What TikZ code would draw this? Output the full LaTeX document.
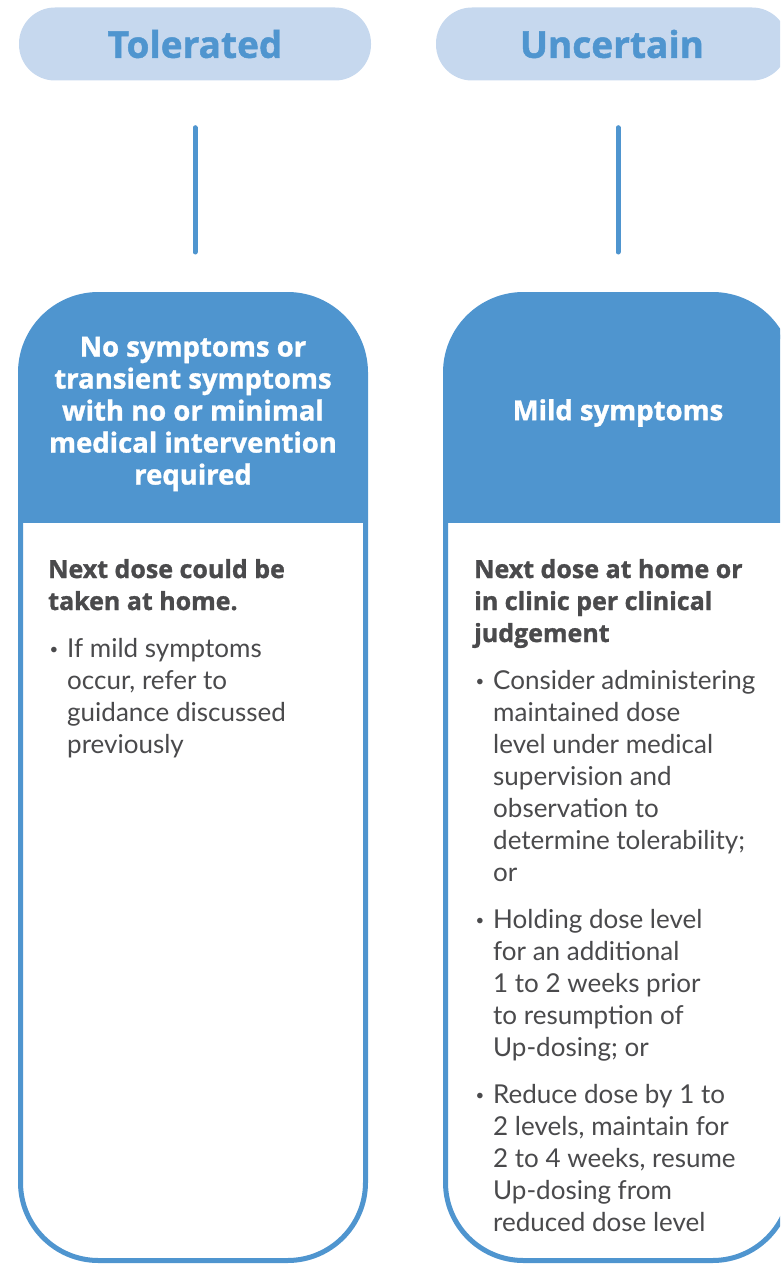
\documentclass[tikz,border=0pt]{standalone}
\usepackage{fontspec}
\setmainfont{Lato}
\newfontfamily\heavy{Open Sans}[BoldFeatures={FakeBold=1.2}]
\definecolor{mblue}{HTML}{4F95CF}
\definecolor{pillfill}{HTML}{C6D8EE}
\definecolor{txtgray}{HTML}{4A4A4C}
\tikzset{
  pill/.style={fill=pillfill, rounded corners=36pt, minimum width=352pt, minimum height=73pt,
    inner sep=0pt, text=mblue, font=\heavy\fontsize{37}{37}\selectfont\bfseries},
  conn/.style={draw=mblue, line width=5pt, line cap=round},
  bigbox/.style={draw=mblue, line width=5pt, rounded corners=78pt, fill=white,
    minimum width=345pt, minimum height=966pt, inner sep=0pt,
    path picture={\fill[mblue, sharp corners] (path picture bounding box.north west) rectangle
      ([yshift=-228.5pt]path picture bounding box.north east);}},
  headtxt/.style={text=white, align=center, font=\heavy\fontsize{27.5}{32}\selectfont\bfseries, inner sep=0pt},
  boldline/.style={text=txtgray, font=\heavy\fontsize{25}{32}\selectfont\bfseries, inner sep=0pt, anchor=base west},
  bodyline/.style={text=txtgray, font=\fontsize{26}{32}\selectfont, inner sep=0pt, anchor=base west},
  dot/.style={text=txtgray, font=\fontsize{15}{15}\selectfont, inner sep=0pt, anchor=base},
}
\newcommand\textlines[5]{%
  \foreach \t [count=\i] in {#5} {\node[#4] (#1\i) at (#2, {#3+32*(\i-1)}) {\t};}}
\begin{document}
\begin{tikzpicture}[x=1pt,y=-1pt]
\useasboundingbox (0,0) rectangle (780,1265);
\clip (0,0) rectangle (780,1265);
% pills
\node[pill] (tol) at (195,44) {Tolerated};
\node[pill] (unc) at (612,44) {Uncertain};
% boxes
\node[bigbox] (tolbox) at (193,777.5) {};
\node[bigbox] (uncbox) at (618,777.5) {};
% connectors
\draw[conn, shorten <=47pt, shorten >=40pt] (tol.south) -- (tol.south |- tolbox.north);
\draw[conn, shorten <=47pt, shorten >=40pt] (unc.south -| uncbox.north) -- (uncbox.north);
% headers
\node[headtxt] (tolhead) at (193,414) {No symptoms or\\transient symptoms\\with no or minimal\\medical intervention\\required};
\node[headtxt] (unchead) at (618,413) {Mild symptoms};
% left body
\textlines{tb}{48}{578}{boldline}{Next dose could be, taken at home.}
\node[dot] (tdot) at (54,654) {•};
\textlines{tl}{67}{657}{bodyline}{If mild symptoms, {occur, refer to}, guidance discussed, previously}
% right body
\textlines{ub}{474}{578}{boldline}{Next dose at home or, in clinic per clinical, judgement}
\node[dot] (udot1) at (480,686) {•};
\textlines{ua}{493}{689}{bodyline}{Consider administering, maintained dose, level under medical, supervision and, observation to, determine tolerability;, or}
\node[dot] (udot2) at (480,925) {•};
\textlines{uc}{493}{928}{bodyline}{Holding dose level, for an additional, 1 to 2 weeks prior, to resumption of, Up-dosing; or}
\node[dot] (udot3) at (480,1100) {•};
\textlines{ud}{493}{1103}{bodyline}{Reduce dose by 1 to, {2 levels, maintain for}, {2 to 4 weeks, resume}, Up-dosing from, reduced dose level}
\end{tikzpicture}
\end{document}
